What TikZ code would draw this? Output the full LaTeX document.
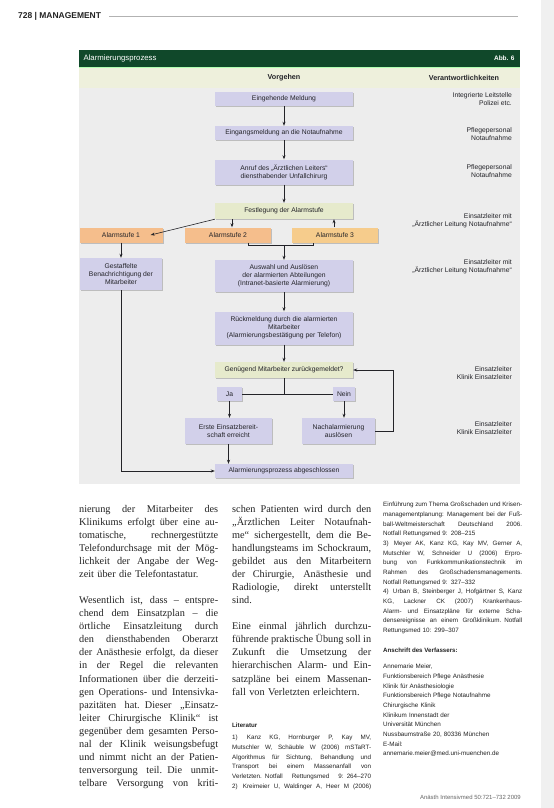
\documentclass[tikz,border=0pt]{standalone}
\usepackage{fontspec}
\setmainfont{Liberation Serif}
\setsansfont{Liberation Sans}
\usetikzlibrary{arrows.meta,shadows}

\definecolor{alarmGreen}{RGB}{16,72,42}
\definecolor{alarmLilac}{RGB}{210,208,234}
\definecolor{alarmOlive}{RGB}{230,234,204}
\definecolor{alarmOrange}{RGB}{245,190,140}
\definecolor{alarmAmber}{RGB}{246,204,140}
\definecolor{alarmPanel}{RGB}{237,237,237}
\definecolor{alarmBand}{RGB}{238,240,220}
\definecolor{alarmInk}{RGB}{35,35,40}
\definecolor{pageInk}{RGB}{35,35,35}

\newlength{\bodyw}
\setlength{\bodyw}{139bp}
\newcommand{\jline}[1]{\leavevmode\hbox to \bodyw{\spaceskip=0.28em plus 2em minus 0.12em\relax #1}}
\newcommand{\eline}[1]{\leavevmode\hbox to \bodyw{#1\hfil}}

\tikzset{
  flowbox/.style={rectangle, fill=alarmLilac, minimum width=138bp, minimum height=14bp, inner sep=1bp, align=center, font=\sffamily\fontsize{6.8}{8}\selectfont, text=alarmInk, drop shadow={shadow xshift=1.2bp, shadow yshift=-1.2bp, fill=black, opacity=0.2}},
  querybox/.style={flowbox, fill=alarmOlive},
  levelbox/.style={flowbox, fill=alarmOrange, minimum width=86bp, minimum height=15bp},
  flowarrow/.style={-{Stealth[length=4bp,width=3bp]}, line width=0.6bp, draw=alarmInk},
  flowline/.style={line width=0.6bp, draw=alarmInk},
  resptext/.style={anchor=east, align=right, inner sep=0bp, font=\sffamily\fontsize{6.8}{8.4}\selectfont, text=alarmInk},
  bodycol/.style={anchor=north west, inner sep=0bp, text width=\bodyw, align=left, font=\fontsize{10.3}{13.1}\selectfont, text=pageInk},
  refcol/.style={anchor=north west, inner sep=0bp, text width=\bodyw, align=left, font=\sffamily\fontsize{6.3}{9.7}\selectfont, text=pageInk}
}

\begin{document}
\begin{tikzpicture}[x=1bp, y=-1bp]
\useasboundingbox (0,0) rectangle (554,808);
\fill[white] (0,0) rectangle (554,808);
\fill[black!6] (541,0) rectangle (554,808);

% page head
\node[anchor=west, inner sep=0bp, font=\sffamily\bfseries\fontsize{8.5}{10}\selectfont, text=pageInk] (pagehead) at (18,16) {728 | MANAGEMENT};
\coordinate (ruleend) at (518,16);
\draw[black!30, line width=0.8bp] ([xshift=8bp]pagehead.east) -- (ruleend);

% figure panel
\fill[alarmPanel] (79,67) rectangle (520,484);
\fill[alarmBand] (79,68) rectangle (520,88);
\fill[alarmGreen] (79,50) rectangle (520,67);
\draw[green!30!white, line width=0.8bp] (79,67.4) -- (520,67.4);
\node[anchor=west, text=white, font=\sffamily\fontsize{7.8}{9}\selectfont] (figtitle) at (80,58.5) {Alarmierungsprozess};
\node[anchor=east, text=white, font=\sffamily\bfseries\fontsize{6.5}{8}\selectfont] (fignum) at (518,58.5) {Abb. 6};
\node[font=\sffamily\bfseries\fontsize{7.2}{9}\selectfont, text=alarmInk] (colproc) at (284,78) {Vorgehen};
\node[font=\sffamily\bfseries\fontsize{7.2}{9}\selectfont, text=alarmInk] (colresp) at (464,78) {Verantwortlichkeiten};

% process steps
\node[flowbox] (meld) at (284,99) {Eingehende Meldung};
\node[flowbox] (eing) at (284,133) {Eingangsmeldung an die Notaufnahme};
\node[flowbox, minimum height=25bp] (arzt) at (284,172) {Anruf des „Ärztlichen Leiters“\\diensthabender Unfallchirurg};
\node[querybox, minimum height=16bp] (fest) at (284,211) {Festlegung der Alarmstufe};
\node[levelbox, minimum width=83bp] (lvl1) at (121,235) {Alarmstufe 1};
\node[levelbox] (lvl2) at (228,235) {Alarmstufe 2};
\node[levelbox, fill=alarmAmber] (lvl3) at (335,235) {Alarmstufe 3};
\node[flowbox, minimum width=82bp, minimum height=32bp] (staff) at (121,274) {Gestaffelte\\Benachrichtigung der\\Mitarbeiter};
\node[flowbox, minimum height=32bp] (select) at (284,276) {Auswahl und Auslösen\\der alarmierten Abteilungen\\(Intranet-basierte Alarmierung)};
\node[flowbox, minimum height=33bp] (reply) at (284,328) {Rückmeldung durch die alarmierten\\Mitarbeiter\\(Alarmierungsbestätigung per Telefon)};
\node[querybox, minimum height=16bp] (enough) at (284,370) {Genügend Mitarbeiter zurückgemeldet?};
\node[flowbox, minimum width=25bp] (yes) at (229.5,394) {Ja};
\node[flowbox, minimum width=22bp] (no) at (344,394) {Nein};
\node[flowbox, minimum width=87bp, minimum height=26bp] (ready) at (228.5,431) {Erste Einsatzbereit-\\schaft erreicht};
\node[flowbox, minimum width=73bp, minimum height=26bp] (recall) at (338.5,431) {Nachalarmierung\\auslösen};
\node[flowbox] (done) at (284,471) {Alarmierungsprozess abgeschlossen};

% connectors
\draw[flowarrow] (meld) -- (eing);
\draw[flowarrow] (eing) -- (arzt);
\draw[flowarrow] (arzt) -- (fest);
\draw[flowarrow] (fest.south west) -- ([xshift=-12bp]lvl1.east);
\draw[flowarrow] ([xshift=4bp]lvl2.north |- fest.south) -- ([xshift=4bp]lvl2.north);
\draw[flowarrow] ([xshift=-1bp]lvl3.north) -- ([xshift=-1bp]lvl3.north |- fest.south);
\coordinate (join) at (284,245.5);
\draw[flowline] ([xshift=20bp]lvl2.south) |- (join) -| ([xshift=-22bp]lvl3.south);
\draw[flowarrow] (join) -- (select);
\draw[flowarrow] (lvl1) -- (staff);
\draw[flowarrow] (staff.south) |- (done.west);
\draw[flowarrow] (select) -- (reply);
\draw[flowarrow] (reply) -- (enough);
\draw[flowline] (enough.south) -- (enough.south |- yes.east);
\draw[flowline] (yes.east) -- (no.west);
\draw[flowarrow] (yes) -- (yes.south |- ready.north);
\draw[flowarrow] (no) -- (no.south |- recall.north);
\draw[flowarrow] (ready) -- (ready.south |- done.north);
\draw[flowarrow] (recall.east) -- ++(18,0) |- (enough.east);

% responsibilities
\node[resptext] (resp1) at (512,99) {Integrierte Leitstelle\\Polizei etc.};
\node[resptext] (resp2) at (512,134) {Pflegepersonal\\Notaufnahme};
\node[resptext] (resp3) at (512,171) {Pflegepersonal\\Notaufnahme};
\node[resptext] (resp4) at (512,221) {Einsatzleiter mit\\„Ärztlicher Leitung Notaufnahme“};
\node[resptext] (resp5) at (512,267) {Einsatzleiter mit\\„Ärztlicher Leitung Notaufnahme“};
\node[resptext] (resp6) at (512,373) {Einsatzleiter\\Klinik Einsatzleiter};
\node[resptext] (resp7) at (512,428) {Einsatzleiter\\Klinik Einsatzleiter};

% article text
\node[bodycol] (textA) at (79,505) {%
\jline{nierung der Mitarbeiter des}\\
\jline{Klinikums erfolgt über eine au-}\\
\jline{tomatische, rechnergestützte}\\
\jline{Telefondurchsage mit der Mög-}\\
\jline{lichkeit der Angabe der Weg-}\\
\eline{zeit über die Telefontastatur.}\\[13.1bp]
\jline{Wesentlich ist, dass – entspre-}\\
\jline{chend dem Einsatzplan – die}\\
\jline{örtliche Einsatzleitung durch}\\
\jline{den diensthabenden Oberarzt}\\
\jline{der Anästhesie erfolgt, da dieser}\\
\jline{in der Regel die relevanten}\\
\jline{Informationen über die derzeiti-}\\
\jline{gen Operations- und Intensivka-}\\
\jline{pazitäten hat. Dieser „Einsatz-}\\
\jline{leiter Chirurgische Klinik“ ist}\\
\jline{gegenüber dem gesamten Perso-}\\
\jline{nal der Klinik weisungsbefugt}\\
\jline{und nimmt nicht an der Patien-}\\
\jline{tenversorgung teil. Die unmit-}\\
\jline{telbare Versorgung von kriti-}};
\node[bodycol] (textB) at (232,505) {%
\jline{schen Patienten wird durch den}\\
\jline{„Ärztlichen Leiter Notaufnah-}\\
\jline{me“ sichergestellt, dem die Be-}\\
\jline{handlungsteams im Schockraum,}\\
\jline{gebildet aus den Mitarbeitern}\\
\jline{der Chirurgie, Anästhesie und}\\
\jline{Radiologie, direkt unterstellt}\\
\eline{sind.}\\[13.1bp]
\jline{Eine einmal jährlich durchzu-}\\
\jline{führende praktische Übung soll in}\\
\jline{Zukunft die Umsetzung der}\\
\jline{hierarchischen Alarm- und Ein-}\\
\jline{satzpläne bei einem Massenan-}\\
\eline{fall von Verletzten erleichtern.}};
\node[anchor=north west, inner sep=0bp, font=\sffamily\bfseries\fontsize{6.2}{8}\selectfont, text=pageInk] (litB) at (232,723) {Literatur};
\node[refcol] (refsB) at (232,735) {%
\jline{1)\, Kanz KG, Hornburger P, Kay MV,}\\
\jline{Mutschler W, Schäuble W (2006) mSTaRT-}\\
\jline{Algorithmus für Sichtung, Behandlung und}\\
\jline{Transport bei einem Massenanfall von}\\
\jline{Verletzten. Notfall Rettungsmed 9: 264–270}\\
\jline{2)\, Kreimeier U, Waldinger A, Heer M (2006)}};
\node[refcol] (refsC) at (383,502) {%
\jline{Einführung zum Thema Großschaden und Krisen-}\\
\jline{managementplanung: Management bei der Fuß-}\\
\jline{ball-Weltmeisterschaft Deutschland 2006.}\\
\eline{Notfall Rettungsmed 9: 208–215}\\
\jline{3)\, Meyer AK, Kanz KG, Kay MV, Gerner A,}\\
\jline{Mutschler W, Schneider U (2006) Erpro-}\\
\jline{bung von Funkkommunikationstechnik im}\\
\jline{Rahmen des Großschadensmanagements.}\\
\eline{Notfall Rettungsmed 9: 327–332}\\
\jline{4)\, Urban B, Steinberger J, Hofgärtner S, Kanz}\\
\jline{KG, Lackner CK (2007) Krankenhaus-}\\
\jline{Alarm- und Einsatzpläne für externe Scha-}\\
\jline{densereignisse an einem Großklinikum. Notfall}\\
\eline{Rettungsmed 10: 299–307}};
\node[anchor=north west, inner sep=0bp, font=\sffamily\bfseries\fontsize{6.2}{8}\selectfont, text=pageInk] (addrC) at (383,648) {Anschrift des Verfassers:};
\node[refcol, text width=140bp] (addrlines) at (383,664) {%
Annemarie Meier,\\
Funktionsbereich Pflege Anästhesie\\
Klinik für Anästhesiologie\\
Funktionsbereich Pflege Notaufnahme\\
Chirurgische Klinik\\
Klinikum Innenstadt der\\
Universität München\\
Nussbaumstraße 20, 80336 München\\
E-Mail:\\
annemarie.meier@med.uni-muenchen.de};
\node[anchor=east, inner sep=0bp, font=\sffamily\fontsize{6}{7}\selectfont, text=black!60] (footer) at (521,797) {Anästh Intensivmed 50:721–732 2009};
\end{tikzpicture}
\end{document}
